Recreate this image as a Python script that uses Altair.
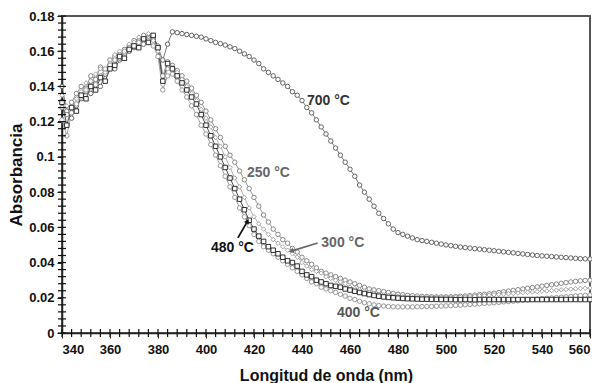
import altair as alt
import pandas as pd

# wavelength grid (nm)
wavelength = list(range(340, 561, 2))

a700 = [0.140, 0.126, 0.122, 0.129, 0.133, 0.137, 0.136, 0.142, 0.140, 0.147,
        0.152, 0.150, 0.155, 0.158, 0.160, 0.162, 0.166, 0.164, 0.168, 0.167,
        0.162, 0.155, 0.164, 0.171, 0.1705, 0.170, 0.1695, 0.169, 0.1685, 0.168,
        0.167, 0.166, 0.165, 0.1643, 0.1635, 0.1625, 0.1615, 0.160, 0.1585, 0.157,
        0.155, 0.153, 0.150, 0.148, 0.146, 0.144, 0.142, 0.140, 0.137, 0.135,
        0.132, 0.128, 0.125, 0.121, 0.117, 0.113, 0.109, 0.105, 0.101, 0.097,
        0.093, 0.089, 0.084, 0.080, 0.076, 0.072, 0.068, 0.065, 0.062, 0.059,
        0.057, 0.056, 0.055, 0.054, 0.053, 0.0525, 0.052, 0.0515, 0.051, 0.0505,
        0.050, 0.0496, 0.0492, 0.0488, 0.0485, 0.0482, 0.0479, 0.0476, 0.0473, 0.047,
        0.0467, 0.0464, 0.0461, 0.0458, 0.0455, 0.0452, 0.0449, 0.0446, 0.0443, 0.044,
        0.0438, 0.0436, 0.0434, 0.0432, 0.043, 0.0428, 0.0426, 0.0424, 0.0422, 0.0421,
        0.042]

a250 = [0.128, 0.124, 0.131, 0.136, 0.140, 0.139, 0.146, 0.144, 0.151, 0.149,
        0.155, 0.157, 0.156, 0.161, 0.163, 0.166, 0.164, 0.169, 0.167, 0.168,
        0.163, 0.146, 0.154, 0.152, 0.149, 0.146, 0.143, 0.139, 0.135, 0.131,
        0.126, 0.121, 0.116, 0.111, 0.106, 0.101, 0.097, 0.092, 0.087, 0.082,
        0.077, 0.072, 0.067, 0.063, 0.059, 0.056, 0.053, 0.051, 0.048, 0.046,
        0.043, 0.041, 0.039, 0.037, 0.035, 0.034, 0.033, 0.032, 0.031, 0.030,
        0.029, 0.028, 0.027, 0.026, 0.025, 0.0245, 0.024, 0.0235, 0.023, 0.0225,
        0.022, 0.0217, 0.0214, 0.0212, 0.021, 0.0208, 0.0207, 0.0206, 0.0205, 0.0205,
        0.0205, 0.0206, 0.0207, 0.0209, 0.021, 0.0212, 0.0215, 0.0218, 0.022, 0.0223,
        0.0226, 0.023, 0.0234, 0.0238, 0.0242, 0.0246, 0.025, 0.0254, 0.0258, 0.0262,
        0.0266, 0.027, 0.0274, 0.0278, 0.0282, 0.0286, 0.029, 0.0293, 0.0296, 0.0298,
        0.030]

a300 = [0.135, 0.129, 0.127, 0.133, 0.137, 0.142, 0.141, 0.147, 0.150, 0.148,
        0.153, 0.158, 0.160, 0.159, 0.164, 0.165, 0.168, 0.166, 0.170, 0.166,
        0.160, 0.141, 0.150, 0.151, 0.148, 0.144, 0.140, 0.136, 0.132, 0.127,
        0.122, 0.117, 0.111, 0.106, 0.100, 0.094, 0.088, 0.083, 0.077, 0.071,
        0.066, 0.062, 0.059, 0.056, 0.053, 0.051, 0.049, 0.047, 0.045, 0.043,
        0.040, 0.038, 0.036, 0.035, 0.034, 0.032, 0.031, 0.030, 0.029, 0.028,
        0.026, 0.0252, 0.0245, 0.0238, 0.0232, 0.0226, 0.022, 0.0216, 0.0213, 0.021,
        0.0207, 0.0205, 0.0203, 0.0202, 0.0201, 0.020, 0.020, 0.020, 0.020, 0.020,
        0.020, 0.0201, 0.0202, 0.0203, 0.0205, 0.0207, 0.0209, 0.0211, 0.0213, 0.0215,
        0.0217, 0.0219, 0.0221, 0.0223, 0.0225, 0.0227, 0.0229, 0.0231, 0.0233, 0.0235,
        0.0237, 0.0239, 0.0241, 0.0243, 0.0245, 0.0247, 0.0249, 0.0251, 0.0253, 0.0254,
        0.0255]

a400 = [0.121, 0.112, 0.125, 0.130, 0.134, 0.138, 0.143, 0.141, 0.146, 0.150,
        0.152, 0.155, 0.158, 0.160, 0.162, 0.163, 0.165, 0.164, 0.166, 0.163,
        0.157, 0.138, 0.146, 0.147, 0.143, 0.138, 0.134, 0.129, 0.124, 0.118,
        0.113, 0.107, 0.101, 0.095, 0.089, 0.083, 0.077, 0.071, 0.066, 0.061,
        0.056, 0.052, 0.049, 0.047, 0.045, 0.043, 0.041, 0.039, 0.037, 0.035,
        0.033, 0.031, 0.029, 0.028, 0.026, 0.025, 0.024, 0.023, 0.022, 0.021,
        0.0197, 0.019, 0.018, 0.0172, 0.0166, 0.016, 0.0156, 0.0153, 0.015, 0.0149,
        0.0148, 0.0148, 0.0148, 0.0148, 0.0149, 0.015, 0.015, 0.0151, 0.0152, 0.0153,
        0.0154, 0.0155, 0.0157, 0.0158, 0.016, 0.0162, 0.0164, 0.0166, 0.0168, 0.017,
        0.0172, 0.0174, 0.0177, 0.0179, 0.0181, 0.0183, 0.0186, 0.0188, 0.019, 0.0192,
        0.0195, 0.0197, 0.0199, 0.0201, 0.0203, 0.0205, 0.0207, 0.021, 0.0212, 0.0214,
        0.0216]

a480 = [0.131, 0.118, 0.128, 0.126, 0.135, 0.133, 0.140, 0.138, 0.145, 0.143,
        0.150, 0.152, 0.157, 0.156, 0.161, 0.163, 0.162, 0.167, 0.165, 0.169,
        0.162, 0.143, 0.153, 0.150, 0.146, 0.142, 0.138, 0.134, 0.130, 0.124,
        0.118, 0.112, 0.106, 0.100, 0.094, 0.088, 0.082, 0.076, 0.070, 0.064,
        0.059, 0.055, 0.052, 0.049, 0.047, 0.045, 0.043, 0.041, 0.040, 0.038,
        0.035, 0.033, 0.032, 0.030, 0.029, 0.028, 0.027, 0.0265, 0.026, 0.025,
        0.0244, 0.0237, 0.023, 0.0224, 0.0218, 0.0213, 0.0209, 0.0205, 0.0202, 0.020,
        0.0198, 0.0196, 0.0195, 0.0194, 0.0193, 0.0192, 0.0192, 0.0191, 0.0191, 0.019,
        0.019, 0.019, 0.0189, 0.0189, 0.019, 0.019, 0.0189, 0.019, 0.019, 0.019,
        0.019, 0.019, 0.019, 0.019, 0.019, 0.019, 0.019, 0.019, 0.019, 0.019,
        0.019, 0.019, 0.019, 0.019, 0.019, 0.019, 0.019, 0.019, 0.019, 0.019,
        0.019]

series_names = ["700 °C", "250 °C", "300 °C", "400 °C", "480 °C"]
series_values = [a700, a250, a300, a400, a480]
series_colors = ["#555555", "#7a7a7a", "#9a9a9a", "#8c8c8c", "#1a1a1a"]
series_shapes = ["circle", "circle", "diamond", "circle", "square"]

# annotation labels
label_text = ["700 °C", "250 °C", "300 °C", "480 °C", "400 °C"]
label_nm = [451, 426, 457, 411, 463.5]
label_A = [0.132, 0.091, 0.051, 0.0485, 0.0115]
label_color = ["#333333", "#666666", "#666666", "#111111", "#555555"]

# arrows (start -> end)
arrow_nm = [413.3, 446.5]
arrow_A = [0.054, 0.0511]
arrow_nm2 = [417.3, 435.5]
arrow_A2 = [0.0635, 0.0465]
arrow_angle = [29, 252]
arrow_color = ["#111111", "#666666"]

x_ticks = list(range(340, 561, 20))
y_ticks = [0, 0.02, 0.04, 0.06, 0.08, 0.1, 0.12, 0.14, 0.16, 0.18]
x_minor = list(range(340, 561, 4))
y_minor = [round(0.004 * i, 3) for i in range(46)]

rows = []
for k, (name, vals) in enumerate(zip(series_names, series_values)):
    for w, v in zip(wavelength, vals):
        rows.append({"nm": w, "A": v, "serie": name, "k": k})
df = pd.DataFrame(rows)

FONT = "Liberation Sans"
XS = alt.Scale(domain=[340, 560], nice=False, zero=False)
YS = alt.Scale(domain=[0, 0.18], nice=False)

X = alt.X("nm:Q", scale=XS,
          axis=alt.Axis(values=x_ticks, title="Longitud de onda (nm)", grid=False,
                        labelFontSize=13, labelFontWeight="bold", labelColor="#111",
                        titleFontSize=16, titleFontWeight="bold", titleColor="#111",
                        tickSize=5, labelPadding=5, titlePadding=11, labelOverlap=False,
                        domainColor="#222", tickColor="#222", domainWidth=1.5))
Y = alt.Y("A:Q", scale=YS,
          axis=alt.Axis(values=y_ticks, labelExpr="format(datum.value, '.2~f')",
                        title="Absorbancia", grid=False,
                        labelFontSize=13, labelFontWeight="bold", labelColor="#111",
                        titleFontSize=17, titleFontWeight="bold", titleColor="#111",
                        tickSize=5, labelPadding=3, titlePadding=3, labelOverlap=False,
                        domainColor="#222", tickColor="#222", domainWidth=1.5))

stroke_scale = alt.Scale(domain=series_names, range=series_colors)
shape_scale = alt.Scale(domain=series_names, range=series_shapes)

lines = alt.Chart(df).mark_line(strokeWidth=0.8).encode(
    x=X, y=Y,
    color=alt.Color("serie:N", scale=stroke_scale, legend=None),
    detail="serie:N",
    order="nm:Q",
)

points = alt.Chart(df).mark_point(size=20, strokeWidth=0.9, fill="white", filled=False, opacity=1).encode(
    x=X, y=Y,
    stroke=alt.Stroke("serie:N", scale=stroke_scale, legend=None),
    shape=alt.Shape("serie:N", scale=shape_scale, legend=None),
    order="k:Q",
)

# minor ticks: placed on the axis lines through the shared scales
mx_df = pd.DataFrame({"nm": x_minor, "A": [0.0] * len(x_minor)})
my_df = pd.DataFrame({"nm": [340] * len(y_minor), "A": y_minor})
mx = alt.Chart(mx_df).mark_tick(orient="vertical", size=8, thickness=1.2, color="#111", opacity=1).encode(
    x=X, y=Y)
my = alt.Chart(my_df).mark_tick(orient="horizontal", size=8, thickness=1.2, color="#111", opacity=1).encode(
    x=X, y=Y)

lab_df = pd.DataFrame({"nm": label_nm, "A": label_A, "t": label_text, "c": label_color})
labels = alt.Chart(lab_df).mark_text(font=FONT, fontSize=14, fontWeight="bold").encode(
    x=X, y=Y, text="t:N", color=alt.Color("c:N", scale=None))

arr_df = pd.DataFrame({"nm": arrow_nm, "A": arrow_A, "nm2": arrow_nm2, "A2": arrow_A2,
                       "c": arrow_color})
arrow_lines = alt.Chart(arr_df).mark_rule(strokeWidth=1.8).encode(
    x=X, y=Y, x2="nm2:Q", y2="A2:Q", color=alt.Color("c:N", scale=None))
head_df = pd.DataFrame({"nm": arrow_nm2, "A": arrow_A2, "ang": arrow_angle, "c": arrow_color})
arrow_heads = alt.Chart(head_df).mark_point(shape="triangle-up", filled=True, size=30, opacity=1).encode(
    x=X, y=Y,
    angle=alt.Angle("ang:Q", scale=None),
    color=alt.Color("c:N", scale=None))

chart = alt.layer(lines, points, mx, my, arrow_lines, arrow_heads, labels).properties(
    width=528, height=317,
    padding={"left": 54, "top": 8, "right": 2, "bottom": 50},
    autosize=alt.AutoSizeParams(type="none"),
).configure(font=FONT).configure_view(stroke="#555555", strokeWidth=2
).configure_axis(labelOverlap=False)

chart.save("out.html", embed_options={"renderer": "svg", "actions": False})
